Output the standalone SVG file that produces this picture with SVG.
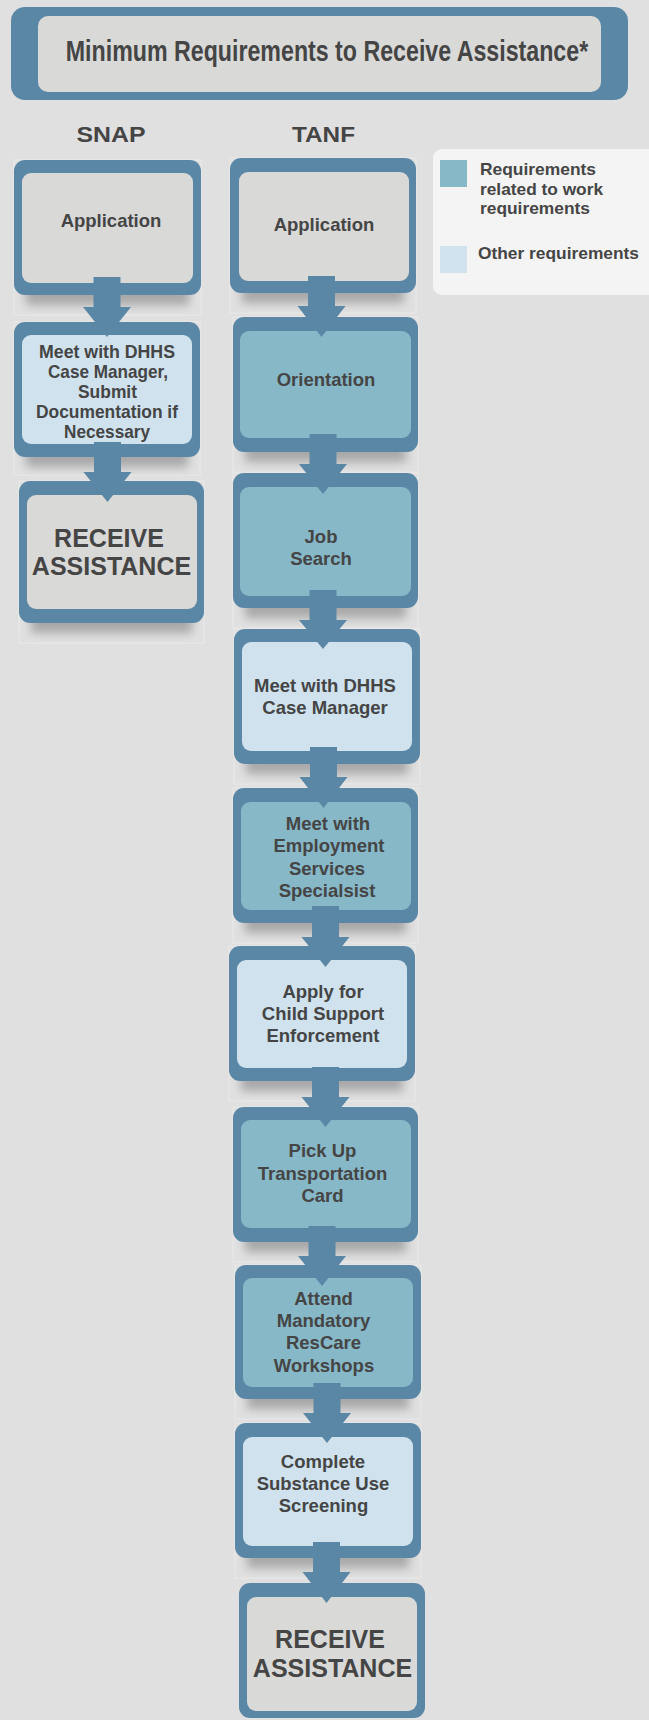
<svg xmlns="http://www.w3.org/2000/svg" width="649" height="1720" viewBox="0 0 649 1720">
<defs>
<filter id="sh" x="-20%" y="-50%" width="140%" height="200%"><feGaussianBlur stdDeviation="5"/></filter>
</defs>
<style>
.t{font-family:"Liberation Sans",Arial,sans-serif;font-weight:bold;fill:#454545;text-anchor:middle;font-size:18.5px}
.big{font-size:25px}
.hd{font-size:22px}
.lg{font-size:17px;text-anchor:start}
.out{fill:#5b87a6}
.gray{fill:#d9d9d8}
.work{fill:#87b8c8}
.other{fill:#cfe2ee}
.shd{fill:#7a7a7a;opacity:0.55;filter:url(#sh)}
.frame{fill:none;stroke:#e9e9e9;stroke-width:1}
.arr{fill:#5b87a6}
</style>
<rect width="649" height="1720" fill="#e0e0e0"/>

<g id="title">
<rect x="11" y="7" width="617" height="93" rx="14" class="out"/>
<rect x="38" y="16" width="563" height="76" rx="10" class="gray"/>
<text class="t" transform="translate(327 61) scale(0.8 1)" x="0" y="0" style="font-size:29px">Minimum Requirements to Receive Assistance*</text>
</g>

<g id="headers">
<text class="t hd" x="111" y="142" textLength="69" lengthAdjust="spacingAndGlyphs">SNAP</text>
<text class="t hd" x="323.5" y="142" textLength="63" lengthAdjust="spacingAndGlyphs">TANF</text>
</g>

<g id="legend">
<rect x="433" y="149" width="226" height="146" rx="9" fill="#f4f4f4"/>
<rect x="440" y="160" width="27" height="27" class="work"/>
<rect x="440" y="246" width="27" height="27" class="other"/>
<text class="t lg" x="480" y="175" textLength="116" lengthAdjust="spacingAndGlyphs">Requirements</text>
<text class="t lg" x="480" y="195" textLength="123" lengthAdjust="spacingAndGlyphs">related to work</text>
<text class="t lg" x="480" y="214" textLength="110" lengthAdjust="spacingAndGlyphs">requirements</text>
<text class="t lg" x="478" y="259" textLength="161" lengthAdjust="spacingAndGlyphs">Other requirements</text>
</g>

<!-- SNAP column -->
<g id="snap-application">
<rect x="14" y="160" width="187" height="155" class="frame"/>
<rect x="26" y="283" width="163" height="22" class="shd"/>
<rect x="14" y="160" width="187" height="135" rx="11" class="out"/>
<rect x="22" y="173" width="171" height="110" rx="9" class="gray"/>
<text class="t" x="111" y="227">Application</text>
</g>
<g id="snap-meet">
<rect x="14" y="322" width="186" height="153" class="frame"/>
<rect x="26" y="445" width="162" height="22" class="shd"/>
<rect x="14" y="322" width="186" height="135" rx="11" class="out"/>
<rect x="22" y="335" width="170" height="109" rx="9" class="other"/>
<text class="t" x="107" y="358" textLength="136" lengthAdjust="spacingAndGlyphs">Meet with DHHS</text>
<text class="t" x="108" y="378" textLength="120" lengthAdjust="spacingAndGlyphs">Case Manager,</text>
<text class="t" x="107.5" y="398" textLength="59" lengthAdjust="spacingAndGlyphs">Submit</text>
<text class="t" x="107" y="418" textLength="142" lengthAdjust="spacingAndGlyphs">Documentation if</text>
<text class="t" x="107" y="438" textLength="86" lengthAdjust="spacingAndGlyphs">Necessary</text>
</g>
<g id="snap-receive">
<rect x="19" y="481" width="185" height="162" class="frame"/>
<rect x="31" y="611" width="161" height="22" class="shd"/>
<rect x="19" y="481" width="185" height="142" rx="11" class="out"/>
<rect x="27" y="495" width="170" height="114" rx="9" class="gray"/>
<text class="t big" x="109" y="547">RECEIVE</text>
<text class="t big" x="111.5" y="575">ASSISTANCE</text>
</g>

<!-- TANF column -->
<g id="tanf-application">
<rect x="230" y="158" width="186" height="155" class="frame"/>
<rect x="242" y="281" width="162" height="22" class="shd"/>
<rect x="230" y="158" width="186" height="135" rx="11" class="out"/>
<rect x="239" y="172" width="170" height="109" rx="9" class="gray"/>
<text class="t" x="324" y="231">Application</text>
</g>
<g id="tanf-orientation">
<rect x="233" y="317" width="185" height="155" class="frame"/>
<rect x="245" y="440" width="161" height="22" class="shd"/>
<rect x="233" y="317" width="185" height="135" rx="11" class="out"/>
<rect x="240" y="331" width="171" height="107" rx="9" class="work"/>
<text class="t" x="326" y="386">Orientation</text>
</g>
<g id="tanf-job-search">
<rect x="233" y="473" width="185" height="155" class="frame"/>
<rect x="245" y="596" width="161" height="22" class="shd"/>
<rect x="233" y="473" width="185" height="135" rx="11" class="out"/>
<rect x="240" y="487" width="171" height="109" rx="9" class="work"/>
<text class="t" x="321" y="543">Job</text>
<text class="t" x="321" y="565">Search</text>
</g>
<g id="tanf-meet-dhhs">
<rect x="234" y="629" width="186" height="155" class="frame"/>
<rect x="246" y="752" width="162" height="22" class="shd"/>
<rect x="234" y="629" width="186" height="135" rx="11" class="out"/>
<rect x="242" y="642" width="170" height="109" rx="9" class="other"/>
<text class="t" x="325" y="692">Meet with DHHS</text>
<text class="t" x="325" y="714">Case Manager</text>
</g>
<g id="tanf-employment">
<rect x="233" y="788" width="185" height="155" class="frame"/>
<rect x="245" y="911" width="161" height="22" class="shd"/>
<rect x="233" y="788" width="185" height="135" rx="11" class="out"/>
<rect x="241" y="802" width="170" height="108" rx="9" class="work"/>
<text class="t" x="328" y="830">Meet with</text>
<text class="t" x="329" y="852">Employment</text>
<text class="t" x="327" y="875">Services</text>
<text class="t" x="327" y="897">Specialsist</text>
</g>
<g id="tanf-child-support">
<rect x="229" y="946" width="186" height="155" class="frame"/>
<rect x="241" y="1069" width="162" height="22" class="shd"/>
<rect x="229" y="946" width="186" height="135" rx="11" class="out"/>
<rect x="237" y="960" width="170" height="108" rx="9" class="other"/>
<text class="t" x="323" y="998">Apply for</text>
<text class="t" x="323" y="1020">Child Support</text>
<text class="t" x="323" y="1042">Enforcement</text>
</g>
<g id="tanf-transportation">
<rect x="233" y="1107" width="185" height="155" class="frame"/>
<rect x="245" y="1230" width="161" height="22" class="shd"/>
<rect x="233" y="1107" width="185" height="135" rx="11" class="out"/>
<rect x="241" y="1120" width="170" height="108" rx="9" class="work"/>
<text class="t" x="322.5" y="1157">Pick Up</text>
<text class="t" x="322.5" y="1180">Transportation</text>
<text class="t" x="322.5" y="1202">Card</text>
</g>
<g id="tanf-workshops">
<rect x="235" y="1265" width="186" height="154" class="frame"/>
<rect x="247" y="1387" width="162" height="22" class="shd"/>
<rect x="235" y="1265" width="186" height="134" rx="11" class="out"/>
<rect x="243" y="1278" width="170" height="109" rx="9" class="work"/>
<text class="t" x="323.5" y="1305">Attend</text>
<text class="t" x="323.5" y="1327">Mandatory</text>
<text class="t" x="323.5" y="1349">ResCare</text>
<text class="t" x="324" y="1372">Workshops</text>
</g>
<g id="tanf-screening">
<rect x="235" y="1423" width="186" height="155" class="frame"/>
<rect x="247" y="1546" width="162" height="22" class="shd"/>
<rect x="235" y="1423" width="186" height="135" rx="11" class="out"/>
<rect x="243" y="1437" width="170" height="109" rx="9" class="other"/>
<text class="t" x="323" y="1468">Complete</text>
<text class="t" x="323" y="1490">Substance Use</text>
<text class="t" x="323.5" y="1512">Screening</text>
</g>
<g id="tanf-receive">
<rect x="239" y="1583" width="186" height="135" rx="11" class="out"/>
<rect x="247" y="1597" width="170" height="114" rx="9" class="gray"/>
<text class="t big" x="330" y="1648">RECEIVE</text>
<text class="t big" x="332.5" y="1677">ASSISTANCE</text>
</g>

<g id="connectors" class="arr">
<path d="M93.5 277H120.5V307H131L107 337L83 307H93.5Z"/>
<path d="M94 442H121V472H131.5L107.5 502L83.5 472H94Z"/>
<path d="M308 276H335V306H345.5L321.5 337L297.5 306H308Z"/>
<path d="M309.5 434H336.5V464H347L323 494L299 464H309.5Z"/>
<path d="M309.5 590H336.5V620H347L323 649L299 620H309.5Z"/>
<path d="M310 747H337V777H347.5L323.5 808L299.5 777H310Z"/>
<path d="M312 906H339V937H349.5L325.5 967L301.5 937H312Z"/>
<path d="M312 1067H339V1097H349.5L325.5 1127L301.5 1097H312Z"/>
<path d="M308.5 1226H335.5V1256H346L322 1286L298 1256H308.5Z"/>
<path d="M313.5 1383H340.5V1413H351L327 1443L303 1413H313.5Z"/>
<path d="M313 1542H340V1572H350.5L326.5 1603L302.5 1572H313Z"/>
</g>
</svg>
